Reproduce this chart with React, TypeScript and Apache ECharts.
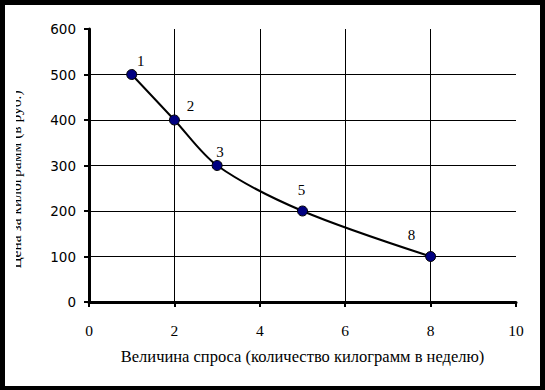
import React, { useEffect, useRef } from "react";
import * as echarts from "echarts";

const quantities = [1, 2, 3, 5, 8];
const prices = [500, 400, 300, 200, 100];
const xTicks = [0, 2, 4, 6, 8, 10];
const yTicks = [0, 100, 200, 300, 400, 500, 600];
const labelOffsets = [[9, -14], [16, -14], [3, -14], [-1, -21], [-19, -22]];
const xTitle = "Величина спроса (количество килограмм в неделю)";
const yTitle = "Цена за килограмм (в руб.)";

export default function App() {
  const ref = useRef<HTMLDivElement>(null);
  useEffect(() => {
    if (!ref.current) return;
    const chart = echarts.init(ref.current, undefined, { renderer: "svg" });
    const data = quantities.map((q, i) => ({
      value: [q, prices[i]],
      label: { offset: labelOffsets[i] },
    }));
    chart.setOption({
      animation: false,
      backgroundColor: "#ffffff",
      grid: { left: 84, top: 24, right: 24, bottom: 84, containLabel: false },
      xAxis: {
        type: "value",
        min: xTicks[0],
        max: xTicks[xTicks.length - 1],
        interval: 2,
        name: xTitle,
        nameLocation: "middle",
        nameGap: 46,
        nameTextStyle: { fontFamily: "Liberation Serif", fontSize: 16.5, color: "#000", verticalAlign: "top" },
        axisLine: { show: true, lineStyle: { color: "#000", width: 3 } },
        axisTick: { show: true, inside: false, length: 5, lineStyle: { color: "#000", width: 2 } },
        axisLabel: { margin: 20, fontFamily: "Liberation Serif", fontSize: 15.5, color: "#000" },
        splitLine: { show: true, showMinLine: false, showMaxLine: false, lineStyle: { color: "#000", width: 1 } },
      },
      yAxis: {
        type: "value",
        min: yTicks[0],
        max: yTicks[yTicks.length - 1],
        interval: 100,
        axisLine: { show: true, lineStyle: { color: "#000", width: 3 } },
        axisTick: { show: true, inside: false, length: 5, lineStyle: { color: "#000", width: 2 } },
        axisLabel: { margin: 13, fontFamily: "DejaVu Sans", fontSize: 13.5, color: "#000" },
        splitLine: { show: true, showMinLine: false, showMaxLine: false, lineStyle: { color: "#000", width: 1 } },
      },
      graphic: [
        {
          type: "text",
          x: 18,
          y: 174.5,
          rotation: Math.PI / 2,
          z: 1,
          style: {
            text: yTitle,
            fontFamily: "Liberation Serif",
            fontSize: 15.5,
            fill: "#000",
            textAlign: "center",
            textVerticalAlign: "bottom",
          },
        },
        {
          type: "rect",
          z: 2,
          shape: { x: 0, y: 0, width: 11, height: 381 },
          style: { fill: "#fff" },
        },
      ],
      series: [
        {
          type: "line",
          data,
          smooth: 0.3,
          symbol: "circle",
          symbolSize: 10,
          lineStyle: { color: "#000", width: 2 },
          itemStyle: { color: "#000080", borderColor: "#000", borderWidth: 1 },
          label: {
            show: true,
            position: "inside",
            formatter: (p: any) => String(p.value[0]),
            fontFamily: "Liberation Serif",
            fontSize: 15,
            color: "#000",
          },
          z: 3,
        },
      ],
    });
    return () => chart.dispose();
  }, []);
  return (
    <div style={{ position: "fixed", left: 0, top: 0, width: 545, height: 390, background: "#000" }}>
      <div ref={ref} style={{ position: "absolute", left: 5, top: 5, width: 535, height: 381 }} />
    </div>
  );
}
